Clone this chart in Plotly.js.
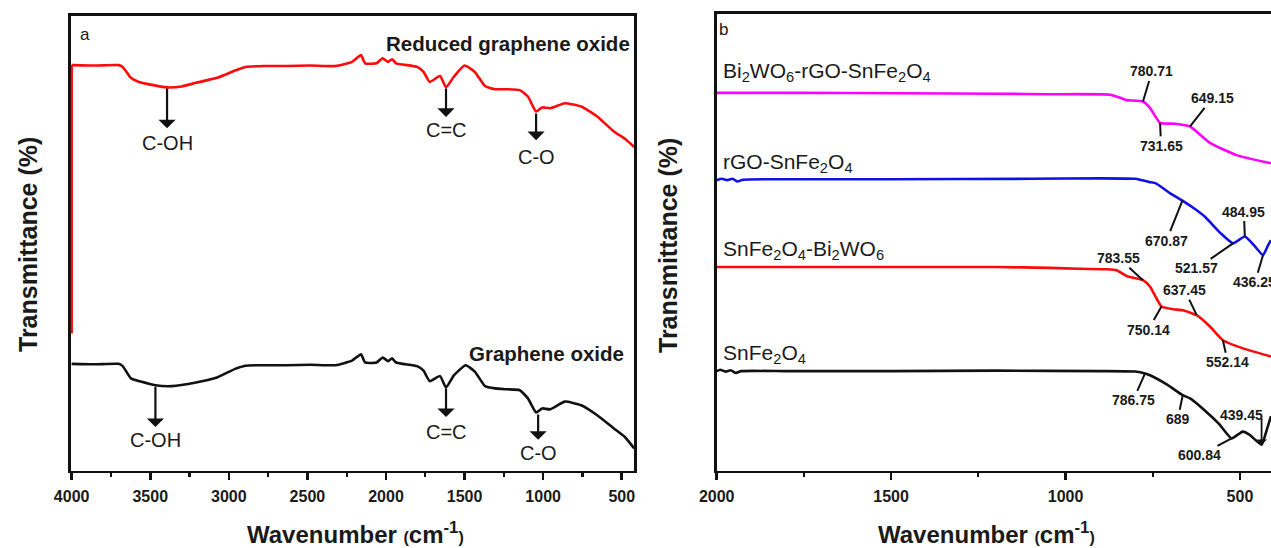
<!DOCTYPE html>
<html><head><meta charset="utf-8">
<script src="https://cdn.plot.ly/plotly-3.0.1.min.js"></script>
<style>html,body{margin:0;padding:0;background:#fff;} #chart{width:1271px;height:548px;}</style>
</head><body><div id="chart"></div>
<script>
// ---------- Panel a: GO / rGO (wavenumber cm-1, transmittance a.u.) ----------
const rgoWn = [4000,4000,3850,3701,3675,3623,3572,3480,3393,3300,3209,3075,2960,2894,2780,2636,2480,2321,2216,2159,2133,2060,2021,1987,1961,1936,1802,1761,1722,1656,1618,1567,1500,1435,1370,1306,1230,1149,1097,1045,1006,955,862,758,656,550,480,421];
const rgoT  = [30.2,89.2,89.1,89.2,88.8,86.4,85.5,84.8,84.3,84.5,85.3,86.4,88.0,88.8,89.0,89.0,89.1,89.0,89.9,91.4,89.6,89.6,90.7,89.9,90.5,89.6,88.8,87.7,85.5,86.8,84.3,86.7,89.1,87.7,84.6,83.9,83.9,83.7,82.3,79.0,79.9,79.7,80.8,80.1,77.9,74.6,73.0,71.2];
const goWn  = [4000,3850,3701,3675,3623,3560,3467,3363,3209,3075,2960,2894,2780,2636,2480,2321,2216,2159,2133,2060,2021,1987,1961,1936,1802,1761,1722,1656,1618,1567,1493,1435,1370,1306,1230,1149,1097,1045,1006,955,862,758,656,550,480,421];
const goT   = [23.5,23.4,23.5,23.0,20.3,19.6,18.8,18.6,19.4,20.5,22.4,23.1,23.2,23.2,23.3,23.2,24.2,25.6,23.8,23.8,24.9,24.1,24.7,23.8,23.0,22.0,19.7,20.8,18.3,21.0,23.2,21.8,18.6,18.1,17.9,17.7,15.9,12.8,13.7,13.5,15.2,14.4,12.2,9.3,7.4,4.9];
const seriesA = ['Reduced graphene oxide','Graphene oxide'];
// band assignments: label, wavenumber, arrow tail T, arrow tip T, label T
const bandLabels = ['C-OH','C=C','C-O'];
const rgoBandWn   = [3393,1618,1045];
const rgoBandTail = [84.4,84.4,78.9];
const rgoBandTip  = [75.3,77.8,72.7];
const rgoBandText = [72.1,74.9,69.0];
const goBandWn    = [3467,1618,1032];
const goBandTail  = [18.8,18.4,12.7];
const goBandTip   = [9.6,11.8,6.8];
const goBandText  = [6.8,8.5,3.9];

// ---------- Panel b: composites ----------
const bwWn = [2000,1760,1480,1190,1045,873,839,825,778,758,729,686,643,586,510,411];
const bwT  = [83.1,83.1,83.0,82.9,82.8,82.7,81.9,81.5,81.2,79.8,76.5,76.3,75.7,72.1,69.4,67.6];
const rsWn = [2000,1985,1970,1955,1940,1925,1800,1500,1100,900,800,787,760,741,700,665,630,601,555,520,486,460,434,420,411];
const rsT  = [63.9,64.2,63.9,64.2,63.6,64.0,64.1,64.1,64.2,64.3,64.2,64.0,63.5,63.2,61.0,59.4,57.6,55.9,52.2,50.0,51.5,49.6,47.4,49.5,50.7];
const sbWn = [2000,1500,1200,1045,960,880,854,821,778,758,725,690,664,624,586,549,491,411];
const sbT  = [44.8,44.8,44.8,44.6,44.4,44.3,44.1,42.7,41.9,40.5,36.1,35.5,35.3,34.2,31.7,28.7,26.9,25.1];
const sfWn = [2000,1990,1975,1960,1945,1930,1800,1500,1200,900,800,772,758,710,664,643,600,560,524,492,472,438,425,411];
const sfT  = [21.9,22.2,21.8,22.1,21.5,21.9,21.9,21.9,22.0,21.9,21.8,21.4,21.0,19.0,16.6,15.9,13.2,10.3,7.1,8.6,7.9,5.7,8.5,12.0];
const seriesB = ['Bi<sub>2</sub>WO<sub>6</sub>-rGO-SnFe<sub>2</sub>O<sub>4</sub>','rGO-SnFe<sub>2</sub>O<sub>4</sub>','SnFe<sub>2</sub>O<sub>4</sub>-Bi<sub>2</sub>WO<sub>6</sub>','SnFe<sub>2</sub>O<sub>4</sub>'];
// peak labels: text, series index (0..3 as seriesB), wavenumber where the marker touches the curve
const peakText   = ['780.71','731.65','649.15','670.87','521.57','484.95','436.25','783.55','750.14','637.45','552.14','786.75','689','600.84'];
const peakSeries = [0,0,0,1,1,1,1,2,2,2,2,3,3,3];
const peakWn     = [778,729,643,665,520,486,434,778,725,624,549,772,664,524];
const arrowPeakText = '439.45';
const arrowPeakWn   = 438;

// ---------- styling / positions ----------
const W = 1271, H = 548;
const FONT = 'Arial, "Liberation Sans", sans-serif';
const INK = '#1a1a1a';
const peakOffsets = [[9,-30],[1,23],[22,-28],[-16,40],[-36,25],[-1,-25],[-8,27],[-24,-22],[-13,23],[-12,-25],[5,22],[-12,27],[-5,24],[-32,17]];
const seriesBColors = ['#ff00ff','#1010e6','#ff0a0a','#111111'];
const seriesBY = [72,163,250,354];

function interp(xs, ys, x){
  for (let i=0;i<xs.length-1;i++){
    const a=xs[i], b=xs[i+1];
    if ((x<=a && x>=b) || (x>=a && x<=b)){
      if (a===b) return ys[i+1];
      const t=(x-a)/(b-a); return ys[i]+t*(ys[i+1]-ys[i]);
    }
  }
  return ys[ys.length-1];
}
function line(x,y,color,xa,ya,name,shape){
  return {x:x,y:y,xaxis:xa,yaxis:ya,type:'scatter',mode:'lines',name:name,
    line:{color:color,width:2.6,shape:shape||'spline',smoothing:0.45},hoverinfo:'skip',showlegend:false};
}
const bData = [[bwWn,bwT],[rsWn,rsT],[sbWn,sbT],[sfWn,sfT]];
const traces = [
  // instrument start of the rGO scan (vertical jump at 4000 cm-1) drawn straight
  line(rgoWn.slice(0,2),rgoT.slice(0,2),'#ff0a0a','x','y',seriesA[0],'linear'),
  line(rgoWn.slice(1),rgoT.slice(1),'#ff0a0a','x','y',seriesA[0]),
  line(goWn,goT,'#111111','x','y',seriesA[1])
];
bData.forEach((d,i)=>traces.push(line(d[0],d[1],seriesBColors[i],'x2','y2',seriesB[i])));

const ann = [];
const txt = (o)=>Object.assign({showarrow:false,xanchor:'center',yanchor:'middle',font:{family:FONT,size:20,color:INK}},o);
// panel letters
ann.push(txt({xref:'paper',yref:'paper',x:85/W,y:1-35/H,text:'a',font:{family:FONT,size:17,color:INK}}));
ann.push(txt({xref:'paper',yref:'paper',x:724/W,y:1-30/H,text:'b',font:{family:FONT,size:17,color:INK}}));
// panel a names
ann.push(txt({xref:'paper',yref:'paper',x:632/W,y:1-43/H,text:seriesA[0],xanchor:'right',font:{family:FONT,size:20.5,weight:'bold',color:INK}}));
ann.push(txt({xref:'paper',yref:'paper',x:626/W,y:1-353/H,text:seriesA[1],xanchor:'right',font:{family:FONT,size:20.5,weight:'bold',color:INK}}));
// band arrows + labels
function band(wn,tail,tip,tt,lab){
  ann.push({xref:'x',yref:'y',axref:'x',ayref:'y',x:wn,y:tip,ax:wn,ay:tail,text:'',showarrow:true,
    arrowhead:1,arrowsize:1.3,arrowwidth:2.2,arrowcolor:'#111'});
  ann.push(txt({xref:'x',yref:'y',x:wn,y:tt,text:lab}));
}
bandLabels.forEach((l,i)=>band(rgoBandWn[i],rgoBandTail[i],rgoBandTip[i],rgoBandText[i],l));
bandLabels.forEach((l,i)=>band(goBandWn[i],goBandTail[i],goBandTip[i],goBandText[i],l));
// panel b names
seriesB.forEach((s,i)=>ann.push(txt({xref:'paper',yref:'paper',x:721/W,y:1-seriesBY[i]/H,text:s,xanchor:'left',font:{family:FONT,size:21,color:INK}})));
// peak labels with tick lines
peakText.forEach((t,i)=>{
  const d = bData[peakSeries[i]];
  ann.push({xref:'x2',yref:'y2',x:peakWn[i],y:interp(d[0],d[1],peakWn[i]),ax:peakOffsets[i][0],ay:peakOffsets[i][1],
    text:t,showarrow:true,arrowhead:0,arrowwidth:2,arrowcolor:'#111',standoff:0,
    font:{family:FONT,size:14,weight:'bold',color:INK}});
});
{
  const yv = interp(sfWn,sfT,arrowPeakWn);
  ann.push({xref:'x2',yref:'y2',x:arrowPeakWn,y:yv,ax:0,ay:-28,text:'',showarrow:true,arrowhead:1,arrowsize:1,arrowwidth:1.8,arrowcolor:'#111'});
  ann.push({xref:'x2',yref:'y2',x:arrowPeakWn,y:yv,text:arrowPeakText,showarrow:false,xshift:-20,yshift:30,
    font:{family:FONT,size:14,weight:'bold',color:INK}});
}
// axis titles
const tf = {family:FONT,size:25,weight:'bold',color:INK};
ann.push(txt({xref:'paper',yref:'paper',x:28/W,y:1-245/H,text:'Transmittance (%)',textangle:-90,font:tf}));
ann.push(txt({xref:'paper',yref:'paper',x:668/W,y:1-245/H,text:'Transmittance (%)',textangle:-90,font:tf}));
const wnTitle = 'Wavenumber <span style="font-size:16px">(</span>cm<sup>-1</sup><span style="font-size:16px">)</span>';
ann.push(txt({xref:'paper',yref:'paper',x:355/W,y:0,yanchor:'bottom',yshift:-2,text:wnTitle,font:{family:FONT,size:24,weight:'bold',color:INK}}));
ann.push(txt({xref:'paper',yref:'paper',x:986/W,y:0,yanchor:'bottom',yshift:-2,text:wnTitle,font:{family:FONT,size:24,weight:'bold',color:INK}}));

const xCommon = {showline:true,linewidth:2.6,linecolor:'#111',ticks:'outside',ticklen:7,tickwidth:2.6,tickcolor:'#111',
  dtick:500,tick0:0,minor:{ticks:'outside',ticklen:4,tickwidth:2.2,dtick:250,tick0:0,tickcolor:'#111'},
  tickfont:{family:FONT,size:16,weight:'bold',color:INK},showgrid:false,zeroline:false,fixedrange:true,ticklabelstandoff:2};
const yCommon = {showline:true,linewidth:2.6,linecolor:'#111',showticklabels:false,ticks:'',showgrid:false,zeroline:false,fixedrange:true};
const layout = {
  width:W,height:H,margin:{l:0,r:0,t:0,b:0},paper_bgcolor:'#fff',plot_bgcolor:'#fff',showlegend:false,
  xaxis:Object.assign({},xCommon,{domain:[70.7/W,634/W],range:[4006,422],mirror:true,anchor:'y'}),
  yaxis:Object.assign({},yCommon,{domain:[1-470.7/H,1-16/H],range:[0,100],mirror:true,anchor:'x',layer:'below traces'}),
  xaxis2:Object.assign({},xCommon,{domain:[716.7/W,1],range:[2000,411],mirror:true,anchor:'y2'}),
  yaxis2:Object.assign({},yCommon,{domain:[1-470.7/H,1-14/H],range:[0,100.44],mirror:false,anchor:'x2'}),
  annotations:ann
};
Plotly.newPlot('chart',traces,layout,{staticPlot:true,displayModeBar:false});
</script></body></html>
